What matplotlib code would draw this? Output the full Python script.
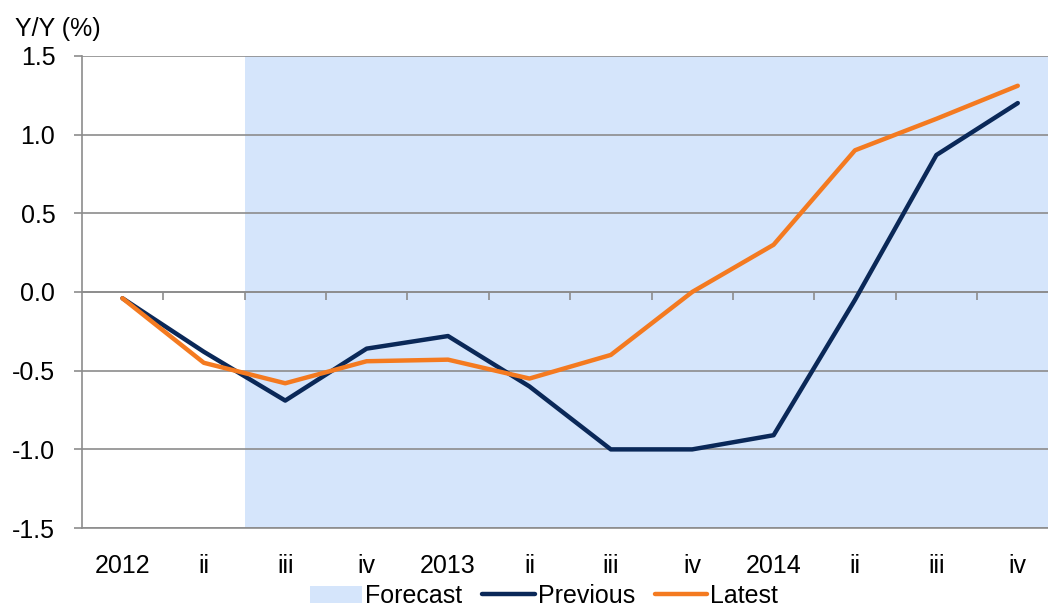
import numpy as np
import matplotlib.pyplot as plt

# Quarter labels
quarters = ['2012', 'ii', 'iii', 'iv', '2013', 'ii', 'iii', 'iv', '2014', 'ii', 'iii', 'iv']

# Y/Y (%) series
previous = [-0.04, -0.38, -0.69, -0.36, -0.28, -0.60, -1.00, -1.00, -0.91, -0.05, 0.87, 1.20]
latest = [-0.04, -0.45, -0.58, -0.44, -0.43, -0.55, -0.40, 0.00, 0.30, 0.90, 1.10, 1.31]

forecast_start = 1.5  # forecast shading begins between ii and iii 2012

navy = '#0a2858'
orange = '#f47a20'
shade = '#d5e5fb'
grey = '#8c8c8c'

plt.rcParams['font.family'] = ['Liberation Sans', 'DejaVu Sans']
fs = 18

fig = plt.figure(figsize=(10.48, 6.07), dpi=100)
ax = fig.add_axes([0.078, 0.130, 0.932, 0.778])

x = np.arange(len(quarters))
ax.set_xlim(-0.5, len(quarters) - 0.5)
ax.set_ylim(-1.5, 1.5)

ax.axvspan(forecast_start, len(quarters) - 0.5, color=shade, lw=0, zorder=0, label='Forecast')
ax.plot(x, previous, color=navy, lw=3.2, solid_capstyle='round', label='Previous', zorder=3)
ax.plot(x, latest, color=orange, lw=3.2, solid_capstyle='round', label='Latest', zorder=4)

# gridlines
yt = np.arange(-1.5, 1.51, 0.5)
ax.set_yticks(yt)
ax.set_yticklabels(['%.1f' % v for v in yt])
ax.yaxis.grid(True, color=grey, lw=1.2, zorder=1)
ax.set_axisbelow(True)

for s in ['top', 'right']:
    ax.spines[s].set_visible(False)
for s in ['left', 'bottom']:
    ax.spines[s].set_color(grey)
    ax.spines[s].set_linewidth(1.2)

ax.tick_params(axis='y', length=6, width=1.2, color=grey, labelsize=fs, pad=13)
ax.set_xticks(x)
ax.set_xticklabels(quarters)
ax.tick_params(axis='x', length=0, labelsize=fs, pad=19)

# zero axis with ticks between categories
sec = ax.secondary_xaxis(0.5)
sec.set_xticks(np.arange(0.5, len(quarters) - 0.5, 1))
sec.set_xticklabels([])
sec.tick_params(axis='x', length=6, width=1.2, color=grey, direction='in')
for sp in sec.spines.values():
    sp.set_color(grey)
    sp.set_linewidth(1.2)

fig.text(0.014, 0.953, 'Y/Y (%)', fontsize=fs, va='center', ha='left')

fig.legend(loc='center', bbox_to_anchor=(0.519, 0.018), ncol=3, frameon=False,
           fontsize=fs, handlelength=2.1, handletextpad=0.12, columnspacing=0.8,
           borderpad=0)

fig.savefig('out.png', dpi=100)
